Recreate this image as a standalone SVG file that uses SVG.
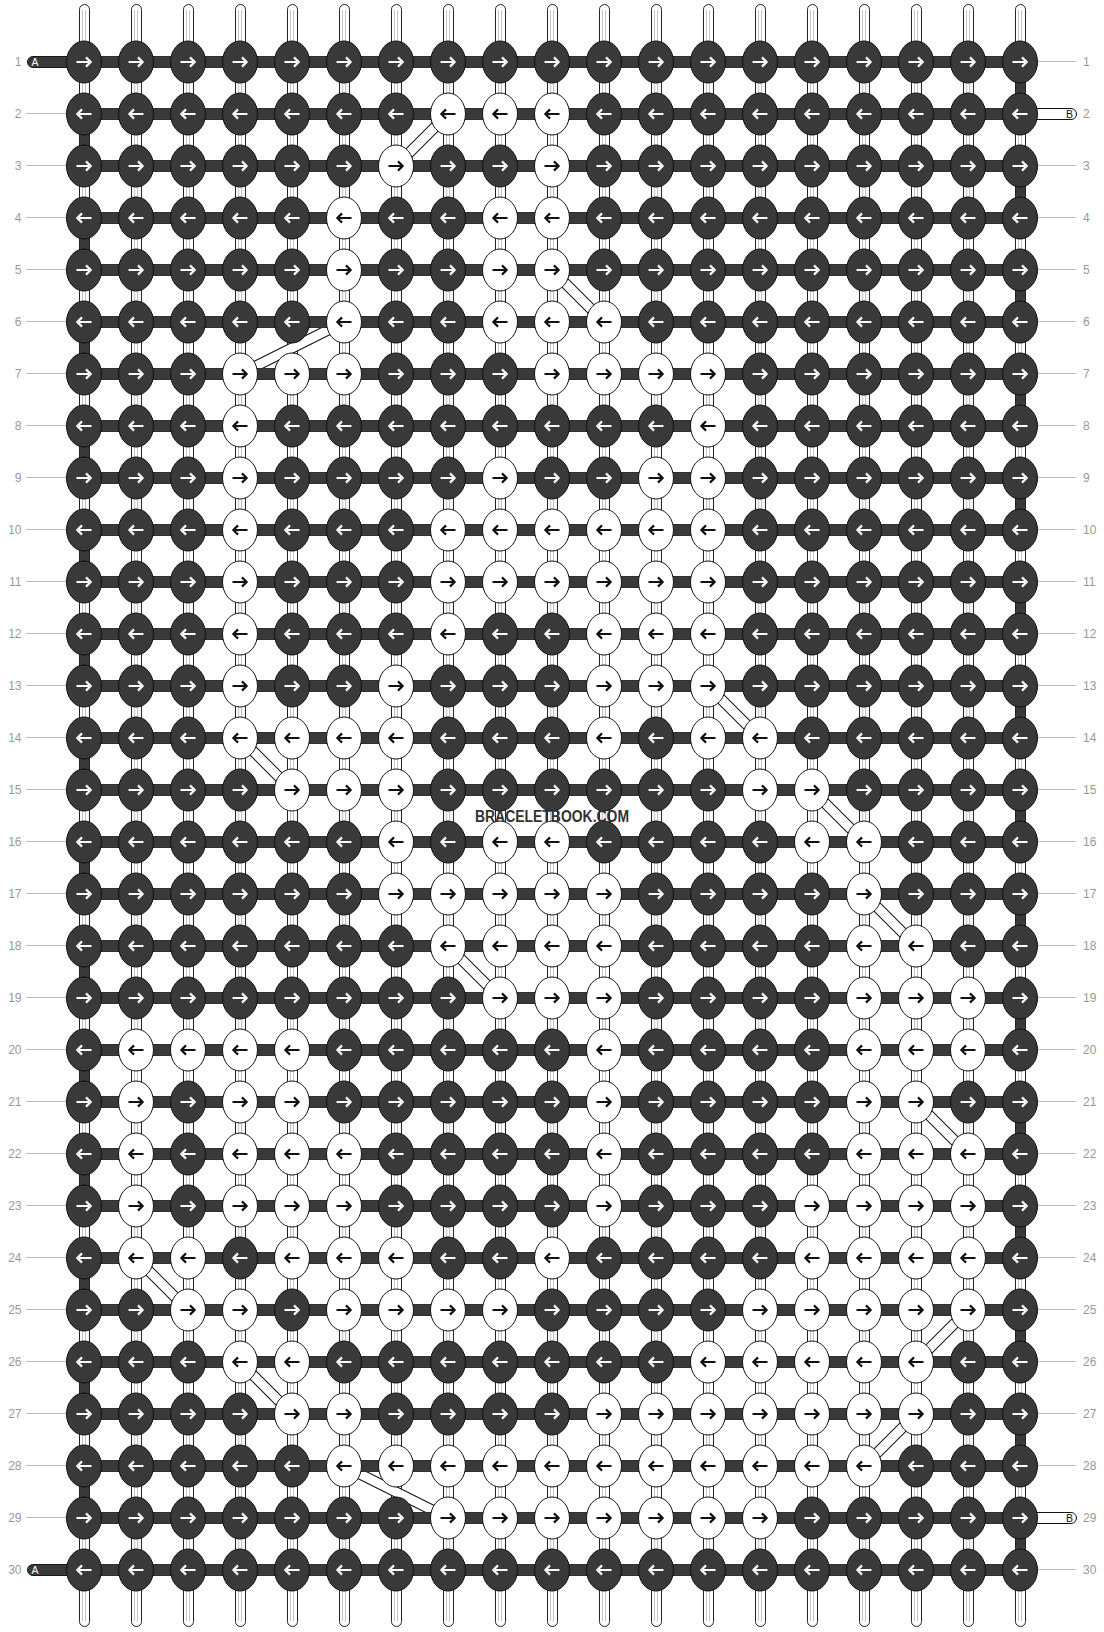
<svg xmlns="http://www.w3.org/2000/svg" width="1104" height="1632" viewBox="0 0 1104 1632">
<style>
.thr rect{fill:#fff;stroke:#222}
.thr path{fill:none;stroke:#c4c4c4}
.edge{fill:#393939;stroke:#222}
.bars{fill:#393939;stroke:#303030}
.cn line{fill:none}
.cn .o{stroke:#111;stroke-width:11}
.cn .i{stroke:#fff;stroke-width:9}
ellipse{stroke:#111}
.d ellipse{fill:#393939}
.w ellipse{fill:#fff}
.d use{stroke:#fff}
.w use{stroke:#111}
.ar{fill:none;stroke-width:2.2}
.num{font-family:"Liberation Sans",Arial,sans-serif;font-size:12px;fill:#999}
.gl{fill:none;stroke:#bbb}
.tag{font-family:"Liberation Sans",Arial,sans-serif;font-size:10.5px}
.abar{fill:#393939;stroke:#1a1a1a}
.bbar{fill:#fff;stroke:#111}
</style>
<defs>
<path id="R" class="ar" d="M-7.5 0H6M2-4.6 6.6 0 2 4.6"/>
<path id="L" class="ar" d="M7.5 0H-6M-2-4.6-6.6 0-2 4.6"/>
</defs>
<rect width="1104" height="1632" fill="#fff"/>
<g id="threads" class="thr">
<rect x="79.5" y="4.5" width="10" height="1622" rx="5"/><rect x="131.5" y="4.5" width="10" height="1622" rx="5"/><rect x="183.5" y="4.5" width="10" height="1622" rx="5"/><rect x="235.5" y="4.5" width="10" height="1622" rx="5"/><rect x="287.5" y="4.5" width="10" height="1622" rx="5"/><rect x="339.5" y="4.5" width="10" height="1622" rx="5"/><rect x="391.5" y="4.5" width="10" height="1622" rx="5"/><rect x="443.5" y="4.5" width="10" height="1622" rx="5"/><rect x="495.5" y="4.5" width="10" height="1622" rx="5"/><rect x="547.5" y="4.5" width="10" height="1622" rx="5"/><rect x="599.5" y="4.5" width="10" height="1622" rx="5"/><rect x="651.5" y="4.5" width="10" height="1622" rx="5"/><rect x="703.5" y="4.5" width="10" height="1622" rx="5"/><rect x="755.5" y="4.5" width="10" height="1622" rx="5"/><rect x="807.5" y="4.5" width="10" height="1622" rx="5"/><rect x="859.5" y="4.5" width="10" height="1622" rx="5"/><rect x="911.5" y="4.5" width="10" height="1622" rx="5"/><rect x="963.5" y="4.5" width="10" height="1622" rx="5"/><rect x="1015.5" y="4.5" width="10" height="1622" rx="5"/>
<path d="M82.5 10V1621M85.5 10V1621M134.5 10V1621M137.5 10V1621M186.5 10V1621M189.5 10V1621M238.5 10V1621M241.5 10V1621M290.5 10V1621M293.5 10V1621M342.5 10V1621M345.5 10V1621M394.5 10V1621M397.5 10V1621M446.5 10V1621M449.5 10V1621M498.5 10V1621M501.5 10V1621M550.5 10V1621M553.5 10V1621M602.5 10V1621M605.5 10V1621M654.5 10V1621M657.5 10V1621M706.5 10V1621M709.5 10V1621M758.5 10V1621M761.5 10V1621M810.5 10V1621M813.5 10V1621M862.5 10V1621M865.5 10V1621M914.5 10V1621M917.5 10V1621M966.5 10V1621M969.5 10V1621M1018.5 10V1621M1021.5 10V1621"/>
</g>
<g id="connectors" class="cn">
<g id="c1"><line class="o" x1="448" y1="114" x2="396" y2="166"/><line class="i" x1="448" y1="114" x2="396" y2="166"/></g>
<g id="c2"><line class="o" x1="552" y1="270" x2="604" y2="322"/><line class="i" x1="552" y1="270" x2="604" y2="322"/></g>
<g id="c3"><line class="o" x1="344" y1="322" x2="240" y2="374"/><line class="i" x1="344" y1="322" x2="240" y2="374"/></g>
<g id="c4"><line class="o" x1="708" y1="686" x2="760" y2="738"/><line class="i" x1="708" y1="686" x2="760" y2="738"/></g>
<g id="c5"><line class="o" x1="240" y1="738" x2="292" y2="790"/><line class="i" x1="240" y1="738" x2="292" y2="790"/></g>
<g id="c6"><line class="o" x1="812" y1="790" x2="864" y2="842"/><line class="i" x1="812" y1="790" x2="864" y2="842"/></g>
<g id="c7"><line class="o" x1="864" y1="894" x2="916" y2="946"/><line class="i" x1="864" y1="894" x2="916" y2="946"/></g>
<g id="c8"><line class="o" x1="448" y1="946" x2="500" y2="998"/><line class="i" x1="448" y1="946" x2="500" y2="998"/></g>
<g id="c9"><line class="o" x1="916" y1="1102" x2="968" y2="1154"/><line class="i" x1="916" y1="1102" x2="968" y2="1154"/></g>
<g id="c10"><line class="o" x1="136" y1="1258" x2="188" y2="1310"/><line class="i" x1="136" y1="1258" x2="188" y2="1310"/></g>
<g id="c11"><line class="o" x1="968" y1="1310" x2="916" y2="1362"/><line class="i" x1="968" y1="1310" x2="916" y2="1362"/></g>
<g id="c12"><line class="o" x1="240" y1="1362" x2="292" y2="1414"/><line class="i" x1="240" y1="1362" x2="292" y2="1414"/></g>
<g id="c13"><line class="o" x1="916" y1="1414" x2="864" y2="1466"/><line class="i" x1="916" y1="1414" x2="864" y2="1466"/></g>
<g id="c14"><line class="o" x1="344" y1="1466" x2="448" y2="1518"/><line class="i" x1="344" y1="1466" x2="448" y2="1518"/></g>
</g>
<g id="edges">
<path class="edge" d="M79.5 114h10v52h-10zM79.5 218h10v52h-10zM79.5 322h10v52h-10zM79.5 426h10v52h-10zM79.5 530h10v52h-10zM79.5 634h10v52h-10zM79.5 738h10v52h-10zM79.5 842h10v52h-10zM79.5 946h10v52h-10zM79.5 1050h10v52h-10zM79.5 1154h10v52h-10zM79.5 1258h10v52h-10zM79.5 1362h10v52h-10zM79.5 1466h10v52h-10z"/>
<path class="edge" d="M1015.5 62h10v52h-10zM1015.5 166h10v52h-10zM1015.5 270h10v52h-10zM1015.5 374h10v52h-10zM1015.5 478h10v52h-10zM1015.5 582h10v52h-10zM1015.5 686h10v52h-10zM1015.5 790h10v52h-10zM1015.5 894h10v52h-10zM1015.5 998h10v52h-10zM1015.5 1102h10v52h-10zM1015.5 1206h10v52h-10zM1015.5 1310h10v52h-10zM1015.5 1414h10v52h-10zM1015.5 1518h10v52h-10z"/>
</g>
<g id="ends">
<rect class="abar" x="27.5" y="56.5" width="70" height="11" rx="5.5"/>
<rect class="abar" x="27.5" y="1564.5" width="70" height="11" rx="5.5"/>
<rect class="bbar" x="1000.5" y="108.5" width="76" height="11" rx="5.5"/>
<rect class="bbar" x="1000.5" y="1512.5" width="76" height="11" rx="5.5"/>
<text class="tag" x="31.5" y="66" fill="#fff">A</text>
<text class="tag" x="31.5" y="1574" fill="#fff">A</text>
<text class="tag" x="1066" y="118" fill="#111">B</text>
<text class="tag" x="1066" y="1522" fill="#111">B</text>
</g>
<path id="rows" class="bars" d="M84 56.5h936v11h-936zM84 108.5h936v11h-936zM84 160.5h936v11h-936zM84 212.5h936v11h-936zM84 264.5h936v11h-936zM84 316.5h936v11h-936zM84 368.5h936v11h-936zM84 420.5h936v11h-936zM84 472.5h936v11h-936zM84 524.5h936v11h-936zM84 576.5h936v11h-936zM84 628.5h936v11h-936zM84 680.5h936v11h-936zM84 732.5h936v11h-936zM84 784.5h936v11h-936zM84 836.5h936v11h-936zM84 888.5h936v11h-936zM84 940.5h936v11h-936zM84 992.5h936v11h-936zM84 1044.5h936v11h-936zM84 1096.5h936v11h-936zM84 1148.5h936v11h-936zM84 1200.5h936v11h-936zM84 1252.5h936v11h-936zM84 1304.5h936v11h-936zM84 1356.5h936v11h-936zM84 1408.5h936v11h-936zM84 1460.5h936v11h-936zM84 1512.5h936v11h-936zM84 1564.5h936v11h-936z"/>
<path id="guides" class="gl" d="M26 113.5H66.5M26 165.5H66.5M26 217.5H66.5M26 269.5H66.5M26 321.5H66.5M26 373.5H66.5M26 425.5H66.5M26 477.5H66.5M26 529.5H66.5M26 581.5H66.5M26 633.5H66.5M26 685.5H66.5M26 737.5H66.5M26 789.5H66.5M26 841.5H66.5M26 893.5H66.5M26 945.5H66.5M26 997.5H66.5M26 1049.5H66.5M26 1101.5H66.5M26 1153.5H66.5M26 1205.5H66.5M26 1257.5H66.5M26 1309.5H66.5M26 1361.5H66.5M26 1413.5H66.5M26 1465.5H66.5M26 1517.5H66.5M1037.5 61.5H1076M1037.5 165.5H1076M1037.5 217.5H1076M1037.5 269.5H1076M1037.5 321.5H1076M1037.5 373.5H1076M1037.5 425.5H1076M1037.5 477.5H1076M1037.5 529.5H1076M1037.5 581.5H1076M1037.5 633.5H1076M1037.5 685.5H1076M1037.5 737.5H1076M1037.5 789.5H1076M1037.5 841.5H1076M1037.5 893.5H1076M1037.5 945.5H1076M1037.5 997.5H1076M1037.5 1049.5H1076M1037.5 1101.5H1076M1037.5 1153.5H1076M1037.5 1205.5H1076M1037.5 1257.5H1076M1037.5 1309.5H1076M1037.5 1361.5H1076M1037.5 1413.5H1076M1037.5 1465.5H1076M1037.5 1569.5H1076"/>
<g id="labels-left" class="num" text-anchor="end">
<text x="21.5" y="66">1</text><text x="21.5" y="118">2</text><text x="21.5" y="170">3</text><text x="21.5" y="222">4</text><text x="21.5" y="274">5</text><text x="21.5" y="326">6</text><text x="21.5" y="378">7</text><text x="21.5" y="430">8</text><text x="21.5" y="482">9</text><text x="21.5" y="534">10</text><text x="21.5" y="586">11</text><text x="21.5" y="638">12</text><text x="21.5" y="690">13</text><text x="21.5" y="742">14</text><text x="21.5" y="794">15</text><text x="21.5" y="846">16</text><text x="21.5" y="898">17</text><text x="21.5" y="950">18</text><text x="21.5" y="1002">19</text><text x="21.5" y="1054">20</text><text x="21.5" y="1106">21</text><text x="21.5" y="1158">22</text><text x="21.5" y="1210">23</text><text x="21.5" y="1262">24</text><text x="21.5" y="1314">25</text><text x="21.5" y="1366">26</text><text x="21.5" y="1418">27</text><text x="21.5" y="1470">28</text><text x="21.5" y="1522">29</text><text x="21.5" y="1574">30</text>
</g>
<g id="labels-right" class="num">
<text x="1083" y="66">1</text><text x="1083" y="118">2</text><text x="1083" y="170">3</text><text x="1083" y="222">4</text><text x="1083" y="274">5</text><text x="1083" y="326">6</text><text x="1083" y="378">7</text><text x="1083" y="430">8</text><text x="1083" y="482">9</text><text x="1083" y="534">10</text><text x="1083" y="586">11</text><text x="1083" y="638">12</text><text x="1083" y="690">13</text><text x="1083" y="742">14</text><text x="1083" y="794">15</text><text x="1083" y="846">16</text><text x="1083" y="898">17</text><text x="1083" y="950">18</text><text x="1083" y="1002">19</text><text x="1083" y="1054">20</text><text x="1083" y="1106">21</text><text x="1083" y="1158">22</text><text x="1083" y="1210">23</text><text x="1083" y="1262">24</text><text x="1083" y="1314">25</text><text x="1083" y="1366">26</text><text x="1083" y="1418">27</text><text x="1083" y="1470">28</text><text x="1083" y="1522">29</text><text x="1083" y="1574">30</text>
</g>
<g id="nodes">
<g id="row1" transform="translate(0 62)">
<g id="n1-1" class="d" transform="translate(84)"><ellipse rx="17.5" ry="21"/><use href="#R"/></g><g id="n1-2" class="d" transform="translate(136)"><ellipse rx="17.5" ry="21"/><use href="#R"/></g><g id="n1-3" class="d" transform="translate(188)"><ellipse rx="17.5" ry="21"/><use href="#R"/></g><g id="n1-4" class="d" transform="translate(240)"><ellipse rx="17.5" ry="21"/><use href="#R"/></g><g id="n1-5" class="d" transform="translate(292)"><ellipse rx="17.5" ry="21"/><use href="#R"/></g><g id="n1-6" class="d" transform="translate(344)"><ellipse rx="17.5" ry="21"/><use href="#R"/></g><g id="n1-7" class="d" transform="translate(396)"><ellipse rx="17.5" ry="21"/><use href="#R"/></g><g id="n1-8" class="d" transform="translate(448)"><ellipse rx="17.5" ry="21"/><use href="#R"/></g><g id="n1-9" class="d" transform="translate(500)"><ellipse rx="17.5" ry="21"/><use href="#R"/></g><g id="n1-10" class="d" transform="translate(552)"><ellipse rx="17.5" ry="21"/><use href="#R"/></g><g id="n1-11" class="d" transform="translate(604)"><ellipse rx="17.5" ry="21"/><use href="#R"/></g><g id="n1-12" class="d" transform="translate(656)"><ellipse rx="17.5" ry="21"/><use href="#R"/></g><g id="n1-13" class="d" transform="translate(708)"><ellipse rx="17.5" ry="21"/><use href="#R"/></g><g id="n1-14" class="d" transform="translate(760)"><ellipse rx="17.5" ry="21"/><use href="#R"/></g><g id="n1-15" class="d" transform="translate(812)"><ellipse rx="17.5" ry="21"/><use href="#R"/></g><g id="n1-16" class="d" transform="translate(864)"><ellipse rx="17.5" ry="21"/><use href="#R"/></g><g id="n1-17" class="d" transform="translate(916)"><ellipse rx="17.5" ry="21"/><use href="#R"/></g><g id="n1-18" class="d" transform="translate(968)"><ellipse rx="17.5" ry="21"/><use href="#R"/></g><g id="n1-19" class="d" transform="translate(1020)"><ellipse rx="17.5" ry="21"/><use href="#R"/></g>
</g>
<g id="row2" transform="translate(0 114)">
<g id="n2-1" class="d" transform="translate(84)"><ellipse rx="17.5" ry="21"/><use href="#L"/></g><g id="n2-2" class="d" transform="translate(136)"><ellipse rx="17.5" ry="21"/><use href="#L"/></g><g id="n2-3" class="d" transform="translate(188)"><ellipse rx="17.5" ry="21"/><use href="#L"/></g><g id="n2-4" class="d" transform="translate(240)"><ellipse rx="17.5" ry="21"/><use href="#L"/></g><g id="n2-5" class="d" transform="translate(292)"><ellipse rx="17.5" ry="21"/><use href="#L"/></g><g id="n2-6" class="d" transform="translate(344)"><ellipse rx="17.5" ry="21"/><use href="#L"/></g><g id="n2-7" class="d" transform="translate(396)"><ellipse rx="17.5" ry="21"/><use href="#L"/></g><g id="n2-8" class="w" transform="translate(448)"><ellipse rx="17.5" ry="21"/><use href="#L"/></g><g id="n2-9" class="w" transform="translate(500)"><ellipse rx="17.5" ry="21"/><use href="#L"/></g><g id="n2-10" class="w" transform="translate(552)"><ellipse rx="17.5" ry="21"/><use href="#L"/></g><g id="n2-11" class="d" transform="translate(604)"><ellipse rx="17.5" ry="21"/><use href="#L"/></g><g id="n2-12" class="d" transform="translate(656)"><ellipse rx="17.5" ry="21"/><use href="#L"/></g><g id="n2-13" class="d" transform="translate(708)"><ellipse rx="17.5" ry="21"/><use href="#L"/></g><g id="n2-14" class="d" transform="translate(760)"><ellipse rx="17.5" ry="21"/><use href="#L"/></g><g id="n2-15" class="d" transform="translate(812)"><ellipse rx="17.5" ry="21"/><use href="#L"/></g><g id="n2-16" class="d" transform="translate(864)"><ellipse rx="17.5" ry="21"/><use href="#L"/></g><g id="n2-17" class="d" transform="translate(916)"><ellipse rx="17.5" ry="21"/><use href="#L"/></g><g id="n2-18" class="d" transform="translate(968)"><ellipse rx="17.5" ry="21"/><use href="#L"/></g><g id="n2-19" class="d" transform="translate(1020)"><ellipse rx="17.5" ry="21"/><use href="#L"/></g>
</g>
<g id="row3" transform="translate(0 166)">
<g id="n3-1" class="d" transform="translate(84)"><ellipse rx="17.5" ry="21"/><use href="#R"/></g><g id="n3-2" class="d" transform="translate(136)"><ellipse rx="17.5" ry="21"/><use href="#R"/></g><g id="n3-3" class="d" transform="translate(188)"><ellipse rx="17.5" ry="21"/><use href="#R"/></g><g id="n3-4" class="d" transform="translate(240)"><ellipse rx="17.5" ry="21"/><use href="#R"/></g><g id="n3-5" class="d" transform="translate(292)"><ellipse rx="17.5" ry="21"/><use href="#R"/></g><g id="n3-6" class="d" transform="translate(344)"><ellipse rx="17.5" ry="21"/><use href="#R"/></g><g id="n3-7" class="w" transform="translate(396)"><ellipse rx="17.5" ry="21"/><use href="#R"/></g><g id="n3-8" class="d" transform="translate(448)"><ellipse rx="17.5" ry="21"/><use href="#R"/></g><g id="n3-9" class="d" transform="translate(500)"><ellipse rx="17.5" ry="21"/><use href="#R"/></g><g id="n3-10" class="w" transform="translate(552)"><ellipse rx="17.5" ry="21"/><use href="#R"/></g><g id="n3-11" class="d" transform="translate(604)"><ellipse rx="17.5" ry="21"/><use href="#R"/></g><g id="n3-12" class="d" transform="translate(656)"><ellipse rx="17.5" ry="21"/><use href="#R"/></g><g id="n3-13" class="d" transform="translate(708)"><ellipse rx="17.5" ry="21"/><use href="#R"/></g><g id="n3-14" class="d" transform="translate(760)"><ellipse rx="17.5" ry="21"/><use href="#R"/></g><g id="n3-15" class="d" transform="translate(812)"><ellipse rx="17.5" ry="21"/><use href="#R"/></g><g id="n3-16" class="d" transform="translate(864)"><ellipse rx="17.5" ry="21"/><use href="#R"/></g><g id="n3-17" class="d" transform="translate(916)"><ellipse rx="17.5" ry="21"/><use href="#R"/></g><g id="n3-18" class="d" transform="translate(968)"><ellipse rx="17.5" ry="21"/><use href="#R"/></g><g id="n3-19" class="d" transform="translate(1020)"><ellipse rx="17.5" ry="21"/><use href="#R"/></g>
</g>
<g id="row4" transform="translate(0 218)">
<g id="n4-1" class="d" transform="translate(84)"><ellipse rx="17.5" ry="21"/><use href="#L"/></g><g id="n4-2" class="d" transform="translate(136)"><ellipse rx="17.5" ry="21"/><use href="#L"/></g><g id="n4-3" class="d" transform="translate(188)"><ellipse rx="17.5" ry="21"/><use href="#L"/></g><g id="n4-4" class="d" transform="translate(240)"><ellipse rx="17.5" ry="21"/><use href="#L"/></g><g id="n4-5" class="d" transform="translate(292)"><ellipse rx="17.5" ry="21"/><use href="#L"/></g><g id="n4-6" class="w" transform="translate(344)"><ellipse rx="17.5" ry="21"/><use href="#L"/></g><g id="n4-7" class="d" transform="translate(396)"><ellipse rx="17.5" ry="21"/><use href="#L"/></g><g id="n4-8" class="d" transform="translate(448)"><ellipse rx="17.5" ry="21"/><use href="#L"/></g><g id="n4-9" class="w" transform="translate(500)"><ellipse rx="17.5" ry="21"/><use href="#L"/></g><g id="n4-10" class="w" transform="translate(552)"><ellipse rx="17.5" ry="21"/><use href="#L"/></g><g id="n4-11" class="d" transform="translate(604)"><ellipse rx="17.5" ry="21"/><use href="#L"/></g><g id="n4-12" class="d" transform="translate(656)"><ellipse rx="17.5" ry="21"/><use href="#L"/></g><g id="n4-13" class="d" transform="translate(708)"><ellipse rx="17.5" ry="21"/><use href="#L"/></g><g id="n4-14" class="d" transform="translate(760)"><ellipse rx="17.5" ry="21"/><use href="#L"/></g><g id="n4-15" class="d" transform="translate(812)"><ellipse rx="17.5" ry="21"/><use href="#L"/></g><g id="n4-16" class="d" transform="translate(864)"><ellipse rx="17.5" ry="21"/><use href="#L"/></g><g id="n4-17" class="d" transform="translate(916)"><ellipse rx="17.5" ry="21"/><use href="#L"/></g><g id="n4-18" class="d" transform="translate(968)"><ellipse rx="17.5" ry="21"/><use href="#L"/></g><g id="n4-19" class="d" transform="translate(1020)"><ellipse rx="17.5" ry="21"/><use href="#L"/></g>
</g>
<g id="row5" transform="translate(0 270)">
<g id="n5-1" class="d" transform="translate(84)"><ellipse rx="17.5" ry="21"/><use href="#R"/></g><g id="n5-2" class="d" transform="translate(136)"><ellipse rx="17.5" ry="21"/><use href="#R"/></g><g id="n5-3" class="d" transform="translate(188)"><ellipse rx="17.5" ry="21"/><use href="#R"/></g><g id="n5-4" class="d" transform="translate(240)"><ellipse rx="17.5" ry="21"/><use href="#R"/></g><g id="n5-5" class="d" transform="translate(292)"><ellipse rx="17.5" ry="21"/><use href="#R"/></g><g id="n5-6" class="w" transform="translate(344)"><ellipse rx="17.5" ry="21"/><use href="#R"/></g><g id="n5-7" class="d" transform="translate(396)"><ellipse rx="17.5" ry="21"/><use href="#R"/></g><g id="n5-8" class="d" transform="translate(448)"><ellipse rx="17.5" ry="21"/><use href="#R"/></g><g id="n5-9" class="w" transform="translate(500)"><ellipse rx="17.5" ry="21"/><use href="#R"/></g><g id="n5-10" class="w" transform="translate(552)"><ellipse rx="17.5" ry="21"/><use href="#R"/></g><g id="n5-11" class="d" transform="translate(604)"><ellipse rx="17.5" ry="21"/><use href="#R"/></g><g id="n5-12" class="d" transform="translate(656)"><ellipse rx="17.5" ry="21"/><use href="#R"/></g><g id="n5-13" class="d" transform="translate(708)"><ellipse rx="17.5" ry="21"/><use href="#R"/></g><g id="n5-14" class="d" transform="translate(760)"><ellipse rx="17.5" ry="21"/><use href="#R"/></g><g id="n5-15" class="d" transform="translate(812)"><ellipse rx="17.5" ry="21"/><use href="#R"/></g><g id="n5-16" class="d" transform="translate(864)"><ellipse rx="17.5" ry="21"/><use href="#R"/></g><g id="n5-17" class="d" transform="translate(916)"><ellipse rx="17.5" ry="21"/><use href="#R"/></g><g id="n5-18" class="d" transform="translate(968)"><ellipse rx="17.5" ry="21"/><use href="#R"/></g><g id="n5-19" class="d" transform="translate(1020)"><ellipse rx="17.5" ry="21"/><use href="#R"/></g>
</g>
<g id="row6" transform="translate(0 322)">
<g id="n6-1" class="d" transform="translate(84)"><ellipse rx="17.5" ry="21"/><use href="#L"/></g><g id="n6-2" class="d" transform="translate(136)"><ellipse rx="17.5" ry="21"/><use href="#L"/></g><g id="n6-3" class="d" transform="translate(188)"><ellipse rx="17.5" ry="21"/><use href="#L"/></g><g id="n6-4" class="d" transform="translate(240)"><ellipse rx="17.5" ry="21"/><use href="#L"/></g><g id="n6-5" class="d" transform="translate(292)"><ellipse rx="17.5" ry="21"/><use href="#L"/></g><g id="n6-6" class="w" transform="translate(344)"><ellipse rx="17.5" ry="21"/><use href="#L"/></g><g id="n6-7" class="d" transform="translate(396)"><ellipse rx="17.5" ry="21"/><use href="#L"/></g><g id="n6-8" class="d" transform="translate(448)"><ellipse rx="17.5" ry="21"/><use href="#L"/></g><g id="n6-9" class="w" transform="translate(500)"><ellipse rx="17.5" ry="21"/><use href="#L"/></g><g id="n6-10" class="w" transform="translate(552)"><ellipse rx="17.5" ry="21"/><use href="#L"/></g><g id="n6-11" class="w" transform="translate(604)"><ellipse rx="17.5" ry="21"/><use href="#L"/></g><g id="n6-12" class="d" transform="translate(656)"><ellipse rx="17.5" ry="21"/><use href="#L"/></g><g id="n6-13" class="d" transform="translate(708)"><ellipse rx="17.5" ry="21"/><use href="#L"/></g><g id="n6-14" class="d" transform="translate(760)"><ellipse rx="17.5" ry="21"/><use href="#L"/></g><g id="n6-15" class="d" transform="translate(812)"><ellipse rx="17.5" ry="21"/><use href="#L"/></g><g id="n6-16" class="d" transform="translate(864)"><ellipse rx="17.5" ry="21"/><use href="#L"/></g><g id="n6-17" class="d" transform="translate(916)"><ellipse rx="17.5" ry="21"/><use href="#L"/></g><g id="n6-18" class="d" transform="translate(968)"><ellipse rx="17.5" ry="21"/><use href="#L"/></g><g id="n6-19" class="d" transform="translate(1020)"><ellipse rx="17.5" ry="21"/><use href="#L"/></g>
</g>
<g id="row7" transform="translate(0 374)">
<g id="n7-1" class="d" transform="translate(84)"><ellipse rx="17.5" ry="21"/><use href="#R"/></g><g id="n7-2" class="d" transform="translate(136)"><ellipse rx="17.5" ry="21"/><use href="#R"/></g><g id="n7-3" class="d" transform="translate(188)"><ellipse rx="17.5" ry="21"/><use href="#R"/></g><g id="n7-4" class="w" transform="translate(240)"><ellipse rx="17.5" ry="21"/><use href="#R"/></g><g id="n7-5" class="w" transform="translate(292)"><ellipse rx="17.5" ry="21"/><use href="#R"/></g><g id="n7-6" class="w" transform="translate(344)"><ellipse rx="17.5" ry="21"/><use href="#R"/></g><g id="n7-7" class="d" transform="translate(396)"><ellipse rx="17.5" ry="21"/><use href="#R"/></g><g id="n7-8" class="d" transform="translate(448)"><ellipse rx="17.5" ry="21"/><use href="#R"/></g><g id="n7-9" class="d" transform="translate(500)"><ellipse rx="17.5" ry="21"/><use href="#R"/></g><g id="n7-10" class="w" transform="translate(552)"><ellipse rx="17.5" ry="21"/><use href="#R"/></g><g id="n7-11" class="w" transform="translate(604)"><ellipse rx="17.5" ry="21"/><use href="#R"/></g><g id="n7-12" class="w" transform="translate(656)"><ellipse rx="17.5" ry="21"/><use href="#R"/></g><g id="n7-13" class="w" transform="translate(708)"><ellipse rx="17.5" ry="21"/><use href="#R"/></g><g id="n7-14" class="d" transform="translate(760)"><ellipse rx="17.5" ry="21"/><use href="#R"/></g><g id="n7-15" class="d" transform="translate(812)"><ellipse rx="17.5" ry="21"/><use href="#R"/></g><g id="n7-16" class="d" transform="translate(864)"><ellipse rx="17.5" ry="21"/><use href="#R"/></g><g id="n7-17" class="d" transform="translate(916)"><ellipse rx="17.5" ry="21"/><use href="#R"/></g><g id="n7-18" class="d" transform="translate(968)"><ellipse rx="17.5" ry="21"/><use href="#R"/></g><g id="n7-19" class="d" transform="translate(1020)"><ellipse rx="17.5" ry="21"/><use href="#R"/></g>
</g>
<g id="row8" transform="translate(0 426)">
<g id="n8-1" class="d" transform="translate(84)"><ellipse rx="17.5" ry="21"/><use href="#L"/></g><g id="n8-2" class="d" transform="translate(136)"><ellipse rx="17.5" ry="21"/><use href="#L"/></g><g id="n8-3" class="d" transform="translate(188)"><ellipse rx="17.5" ry="21"/><use href="#L"/></g><g id="n8-4" class="w" transform="translate(240)"><ellipse rx="17.5" ry="21"/><use href="#L"/></g><g id="n8-5" class="d" transform="translate(292)"><ellipse rx="17.5" ry="21"/><use href="#L"/></g><g id="n8-6" class="d" transform="translate(344)"><ellipse rx="17.5" ry="21"/><use href="#L"/></g><g id="n8-7" class="d" transform="translate(396)"><ellipse rx="17.5" ry="21"/><use href="#L"/></g><g id="n8-8" class="d" transform="translate(448)"><ellipse rx="17.5" ry="21"/><use href="#L"/></g><g id="n8-9" class="d" transform="translate(500)"><ellipse rx="17.5" ry="21"/><use href="#L"/></g><g id="n8-10" class="d" transform="translate(552)"><ellipse rx="17.5" ry="21"/><use href="#L"/></g><g id="n8-11" class="d" transform="translate(604)"><ellipse rx="17.5" ry="21"/><use href="#L"/></g><g id="n8-12" class="d" transform="translate(656)"><ellipse rx="17.5" ry="21"/><use href="#L"/></g><g id="n8-13" class="w" transform="translate(708)"><ellipse rx="17.5" ry="21"/><use href="#L"/></g><g id="n8-14" class="d" transform="translate(760)"><ellipse rx="17.5" ry="21"/><use href="#L"/></g><g id="n8-15" class="d" transform="translate(812)"><ellipse rx="17.5" ry="21"/><use href="#L"/></g><g id="n8-16" class="d" transform="translate(864)"><ellipse rx="17.5" ry="21"/><use href="#L"/></g><g id="n8-17" class="d" transform="translate(916)"><ellipse rx="17.5" ry="21"/><use href="#L"/></g><g id="n8-18" class="d" transform="translate(968)"><ellipse rx="17.5" ry="21"/><use href="#L"/></g><g id="n8-19" class="d" transform="translate(1020)"><ellipse rx="17.5" ry="21"/><use href="#L"/></g>
</g>
<g id="row9" transform="translate(0 478)">
<g id="n9-1" class="d" transform="translate(84)"><ellipse rx="17.5" ry="21"/><use href="#R"/></g><g id="n9-2" class="d" transform="translate(136)"><ellipse rx="17.5" ry="21"/><use href="#R"/></g><g id="n9-3" class="d" transform="translate(188)"><ellipse rx="17.5" ry="21"/><use href="#R"/></g><g id="n9-4" class="w" transform="translate(240)"><ellipse rx="17.5" ry="21"/><use href="#R"/></g><g id="n9-5" class="d" transform="translate(292)"><ellipse rx="17.5" ry="21"/><use href="#R"/></g><g id="n9-6" class="d" transform="translate(344)"><ellipse rx="17.5" ry="21"/><use href="#R"/></g><g id="n9-7" class="d" transform="translate(396)"><ellipse rx="17.5" ry="21"/><use href="#R"/></g><g id="n9-8" class="d" transform="translate(448)"><ellipse rx="17.5" ry="21"/><use href="#R"/></g><g id="n9-9" class="w" transform="translate(500)"><ellipse rx="17.5" ry="21"/><use href="#R"/></g><g id="n9-10" class="d" transform="translate(552)"><ellipse rx="17.5" ry="21"/><use href="#R"/></g><g id="n9-11" class="d" transform="translate(604)"><ellipse rx="17.5" ry="21"/><use href="#R"/></g><g id="n9-12" class="w" transform="translate(656)"><ellipse rx="17.5" ry="21"/><use href="#R"/></g><g id="n9-13" class="w" transform="translate(708)"><ellipse rx="17.5" ry="21"/><use href="#R"/></g><g id="n9-14" class="d" transform="translate(760)"><ellipse rx="17.5" ry="21"/><use href="#R"/></g><g id="n9-15" class="d" transform="translate(812)"><ellipse rx="17.5" ry="21"/><use href="#R"/></g><g id="n9-16" class="d" transform="translate(864)"><ellipse rx="17.5" ry="21"/><use href="#R"/></g><g id="n9-17" class="d" transform="translate(916)"><ellipse rx="17.5" ry="21"/><use href="#R"/></g><g id="n9-18" class="d" transform="translate(968)"><ellipse rx="17.5" ry="21"/><use href="#R"/></g><g id="n9-19" class="d" transform="translate(1020)"><ellipse rx="17.5" ry="21"/><use href="#R"/></g>
</g>
<g id="row10" transform="translate(0 530)">
<g id="n10-1" class="d" transform="translate(84)"><ellipse rx="17.5" ry="21"/><use href="#L"/></g><g id="n10-2" class="d" transform="translate(136)"><ellipse rx="17.5" ry="21"/><use href="#L"/></g><g id="n10-3" class="d" transform="translate(188)"><ellipse rx="17.5" ry="21"/><use href="#L"/></g><g id="n10-4" class="w" transform="translate(240)"><ellipse rx="17.5" ry="21"/><use href="#L"/></g><g id="n10-5" class="d" transform="translate(292)"><ellipse rx="17.5" ry="21"/><use href="#L"/></g><g id="n10-6" class="d" transform="translate(344)"><ellipse rx="17.5" ry="21"/><use href="#L"/></g><g id="n10-7" class="d" transform="translate(396)"><ellipse rx="17.5" ry="21"/><use href="#L"/></g><g id="n10-8" class="w" transform="translate(448)"><ellipse rx="17.5" ry="21"/><use href="#L"/></g><g id="n10-9" class="w" transform="translate(500)"><ellipse rx="17.5" ry="21"/><use href="#L"/></g><g id="n10-10" class="w" transform="translate(552)"><ellipse rx="17.5" ry="21"/><use href="#L"/></g><g id="n10-11" class="w" transform="translate(604)"><ellipse rx="17.5" ry="21"/><use href="#L"/></g><g id="n10-12" class="w" transform="translate(656)"><ellipse rx="17.5" ry="21"/><use href="#L"/></g><g id="n10-13" class="w" transform="translate(708)"><ellipse rx="17.5" ry="21"/><use href="#L"/></g><g id="n10-14" class="d" transform="translate(760)"><ellipse rx="17.5" ry="21"/><use href="#L"/></g><g id="n10-15" class="d" transform="translate(812)"><ellipse rx="17.5" ry="21"/><use href="#L"/></g><g id="n10-16" class="d" transform="translate(864)"><ellipse rx="17.5" ry="21"/><use href="#L"/></g><g id="n10-17" class="d" transform="translate(916)"><ellipse rx="17.5" ry="21"/><use href="#L"/></g><g id="n10-18" class="d" transform="translate(968)"><ellipse rx="17.5" ry="21"/><use href="#L"/></g><g id="n10-19" class="d" transform="translate(1020)"><ellipse rx="17.5" ry="21"/><use href="#L"/></g>
</g>
<g id="row11" transform="translate(0 582)">
<g id="n11-1" class="d" transform="translate(84)"><ellipse rx="17.5" ry="21"/><use href="#R"/></g><g id="n11-2" class="d" transform="translate(136)"><ellipse rx="17.5" ry="21"/><use href="#R"/></g><g id="n11-3" class="d" transform="translate(188)"><ellipse rx="17.5" ry="21"/><use href="#R"/></g><g id="n11-4" class="w" transform="translate(240)"><ellipse rx="17.5" ry="21"/><use href="#R"/></g><g id="n11-5" class="d" transform="translate(292)"><ellipse rx="17.5" ry="21"/><use href="#R"/></g><g id="n11-6" class="d" transform="translate(344)"><ellipse rx="17.5" ry="21"/><use href="#R"/></g><g id="n11-7" class="d" transform="translate(396)"><ellipse rx="17.5" ry="21"/><use href="#R"/></g><g id="n11-8" class="w" transform="translate(448)"><ellipse rx="17.5" ry="21"/><use href="#R"/></g><g id="n11-9" class="w" transform="translate(500)"><ellipse rx="17.5" ry="21"/><use href="#R"/></g><g id="n11-10" class="w" transform="translate(552)"><ellipse rx="17.5" ry="21"/><use href="#R"/></g><g id="n11-11" class="w" transform="translate(604)"><ellipse rx="17.5" ry="21"/><use href="#R"/></g><g id="n11-12" class="w" transform="translate(656)"><ellipse rx="17.5" ry="21"/><use href="#R"/></g><g id="n11-13" class="w" transform="translate(708)"><ellipse rx="17.5" ry="21"/><use href="#R"/></g><g id="n11-14" class="d" transform="translate(760)"><ellipse rx="17.5" ry="21"/><use href="#R"/></g><g id="n11-15" class="d" transform="translate(812)"><ellipse rx="17.5" ry="21"/><use href="#R"/></g><g id="n11-16" class="d" transform="translate(864)"><ellipse rx="17.5" ry="21"/><use href="#R"/></g><g id="n11-17" class="d" transform="translate(916)"><ellipse rx="17.5" ry="21"/><use href="#R"/></g><g id="n11-18" class="d" transform="translate(968)"><ellipse rx="17.5" ry="21"/><use href="#R"/></g><g id="n11-19" class="d" transform="translate(1020)"><ellipse rx="17.5" ry="21"/><use href="#R"/></g>
</g>
<g id="row12" transform="translate(0 634)">
<g id="n12-1" class="d" transform="translate(84)"><ellipse rx="17.5" ry="21"/><use href="#L"/></g><g id="n12-2" class="d" transform="translate(136)"><ellipse rx="17.5" ry="21"/><use href="#L"/></g><g id="n12-3" class="d" transform="translate(188)"><ellipse rx="17.5" ry="21"/><use href="#L"/></g><g id="n12-4" class="w" transform="translate(240)"><ellipse rx="17.5" ry="21"/><use href="#L"/></g><g id="n12-5" class="d" transform="translate(292)"><ellipse rx="17.5" ry="21"/><use href="#L"/></g><g id="n12-6" class="d" transform="translate(344)"><ellipse rx="17.5" ry="21"/><use href="#L"/></g><g id="n12-7" class="d" transform="translate(396)"><ellipse rx="17.5" ry="21"/><use href="#L"/></g><g id="n12-8" class="w" transform="translate(448)"><ellipse rx="17.5" ry="21"/><use href="#L"/></g><g id="n12-9" class="d" transform="translate(500)"><ellipse rx="17.5" ry="21"/><use href="#L"/></g><g id="n12-10" class="d" transform="translate(552)"><ellipse rx="17.5" ry="21"/><use href="#L"/></g><g id="n12-11" class="w" transform="translate(604)"><ellipse rx="17.5" ry="21"/><use href="#L"/></g><g id="n12-12" class="w" transform="translate(656)"><ellipse rx="17.5" ry="21"/><use href="#L"/></g><g id="n12-13" class="w" transform="translate(708)"><ellipse rx="17.5" ry="21"/><use href="#L"/></g><g id="n12-14" class="d" transform="translate(760)"><ellipse rx="17.5" ry="21"/><use href="#L"/></g><g id="n12-15" class="d" transform="translate(812)"><ellipse rx="17.5" ry="21"/><use href="#L"/></g><g id="n12-16" class="d" transform="translate(864)"><ellipse rx="17.5" ry="21"/><use href="#L"/></g><g id="n12-17" class="d" transform="translate(916)"><ellipse rx="17.5" ry="21"/><use href="#L"/></g><g id="n12-18" class="d" transform="translate(968)"><ellipse rx="17.5" ry="21"/><use href="#L"/></g><g id="n12-19" class="d" transform="translate(1020)"><ellipse rx="17.5" ry="21"/><use href="#L"/></g>
</g>
<g id="row13" transform="translate(0 686)">
<g id="n13-1" class="d" transform="translate(84)"><ellipse rx="17.5" ry="21"/><use href="#R"/></g><g id="n13-2" class="d" transform="translate(136)"><ellipse rx="17.5" ry="21"/><use href="#R"/></g><g id="n13-3" class="d" transform="translate(188)"><ellipse rx="17.5" ry="21"/><use href="#R"/></g><g id="n13-4" class="w" transform="translate(240)"><ellipse rx="17.5" ry="21"/><use href="#R"/></g><g id="n13-5" class="d" transform="translate(292)"><ellipse rx="17.5" ry="21"/><use href="#R"/></g><g id="n13-6" class="d" transform="translate(344)"><ellipse rx="17.5" ry="21"/><use href="#R"/></g><g id="n13-7" class="w" transform="translate(396)"><ellipse rx="17.5" ry="21"/><use href="#R"/></g><g id="n13-8" class="d" transform="translate(448)"><ellipse rx="17.5" ry="21"/><use href="#R"/></g><g id="n13-9" class="d" transform="translate(500)"><ellipse rx="17.5" ry="21"/><use href="#R"/></g><g id="n13-10" class="d" transform="translate(552)"><ellipse rx="17.5" ry="21"/><use href="#R"/></g><g id="n13-11" class="w" transform="translate(604)"><ellipse rx="17.5" ry="21"/><use href="#R"/></g><g id="n13-12" class="w" transform="translate(656)"><ellipse rx="17.5" ry="21"/><use href="#R"/></g><g id="n13-13" class="w" transform="translate(708)"><ellipse rx="17.5" ry="21"/><use href="#R"/></g><g id="n13-14" class="d" transform="translate(760)"><ellipse rx="17.5" ry="21"/><use href="#R"/></g><g id="n13-15" class="d" transform="translate(812)"><ellipse rx="17.5" ry="21"/><use href="#R"/></g><g id="n13-16" class="d" transform="translate(864)"><ellipse rx="17.5" ry="21"/><use href="#R"/></g><g id="n13-17" class="d" transform="translate(916)"><ellipse rx="17.5" ry="21"/><use href="#R"/></g><g id="n13-18" class="d" transform="translate(968)"><ellipse rx="17.5" ry="21"/><use href="#R"/></g><g id="n13-19" class="d" transform="translate(1020)"><ellipse rx="17.5" ry="21"/><use href="#R"/></g>
</g>
<g id="row14" transform="translate(0 738)">
<g id="n14-1" class="d" transform="translate(84)"><ellipse rx="17.5" ry="21"/><use href="#L"/></g><g id="n14-2" class="d" transform="translate(136)"><ellipse rx="17.5" ry="21"/><use href="#L"/></g><g id="n14-3" class="d" transform="translate(188)"><ellipse rx="17.5" ry="21"/><use href="#L"/></g><g id="n14-4" class="w" transform="translate(240)"><ellipse rx="17.5" ry="21"/><use href="#L"/></g><g id="n14-5" class="w" transform="translate(292)"><ellipse rx="17.5" ry="21"/><use href="#L"/></g><g id="n14-6" class="w" transform="translate(344)"><ellipse rx="17.5" ry="21"/><use href="#L"/></g><g id="n14-7" class="w" transform="translate(396)"><ellipse rx="17.5" ry="21"/><use href="#L"/></g><g id="n14-8" class="d" transform="translate(448)"><ellipse rx="17.5" ry="21"/><use href="#L"/></g><g id="n14-9" class="d" transform="translate(500)"><ellipse rx="17.5" ry="21"/><use href="#L"/></g><g id="n14-10" class="d" transform="translate(552)"><ellipse rx="17.5" ry="21"/><use href="#L"/></g><g id="n14-11" class="w" transform="translate(604)"><ellipse rx="17.5" ry="21"/><use href="#L"/></g><g id="n14-12" class="d" transform="translate(656)"><ellipse rx="17.5" ry="21"/><use href="#L"/></g><g id="n14-13" class="w" transform="translate(708)"><ellipse rx="17.5" ry="21"/><use href="#L"/></g><g id="n14-14" class="w" transform="translate(760)"><ellipse rx="17.5" ry="21"/><use href="#L"/></g><g id="n14-15" class="d" transform="translate(812)"><ellipse rx="17.5" ry="21"/><use href="#L"/></g><g id="n14-16" class="d" transform="translate(864)"><ellipse rx="17.5" ry="21"/><use href="#L"/></g><g id="n14-17" class="d" transform="translate(916)"><ellipse rx="17.5" ry="21"/><use href="#L"/></g><g id="n14-18" class="d" transform="translate(968)"><ellipse rx="17.5" ry="21"/><use href="#L"/></g><g id="n14-19" class="d" transform="translate(1020)"><ellipse rx="17.5" ry="21"/><use href="#L"/></g>
</g>
<g id="row15" transform="translate(0 790)">
<g id="n15-1" class="d" transform="translate(84)"><ellipse rx="17.5" ry="21"/><use href="#R"/></g><g id="n15-2" class="d" transform="translate(136)"><ellipse rx="17.5" ry="21"/><use href="#R"/></g><g id="n15-3" class="d" transform="translate(188)"><ellipse rx="17.5" ry="21"/><use href="#R"/></g><g id="n15-4" class="d" transform="translate(240)"><ellipse rx="17.5" ry="21"/><use href="#R"/></g><g id="n15-5" class="w" transform="translate(292)"><ellipse rx="17.5" ry="21"/><use href="#R"/></g><g id="n15-6" class="w" transform="translate(344)"><ellipse rx="17.5" ry="21"/><use href="#R"/></g><g id="n15-7" class="w" transform="translate(396)"><ellipse rx="17.5" ry="21"/><use href="#R"/></g><g id="n15-8" class="d" transform="translate(448)"><ellipse rx="17.5" ry="21"/><use href="#R"/></g><g id="n15-9" class="d" transform="translate(500)"><ellipse rx="17.5" ry="21"/><use href="#R"/></g><g id="n15-10" class="d" transform="translate(552)"><ellipse rx="17.5" ry="21"/><use href="#R"/></g><g id="n15-11" class="d" transform="translate(604)"><ellipse rx="17.5" ry="21"/><use href="#R"/></g><g id="n15-12" class="d" transform="translate(656)"><ellipse rx="17.5" ry="21"/><use href="#R"/></g><g id="n15-13" class="d" transform="translate(708)"><ellipse rx="17.5" ry="21"/><use href="#R"/></g><g id="n15-14" class="w" transform="translate(760)"><ellipse rx="17.5" ry="21"/><use href="#R"/></g><g id="n15-15" class="w" transform="translate(812)"><ellipse rx="17.5" ry="21"/><use href="#R"/></g><g id="n15-16" class="d" transform="translate(864)"><ellipse rx="17.5" ry="21"/><use href="#R"/></g><g id="n15-17" class="d" transform="translate(916)"><ellipse rx="17.5" ry="21"/><use href="#R"/></g><g id="n15-18" class="d" transform="translate(968)"><ellipse rx="17.5" ry="21"/><use href="#R"/></g><g id="n15-19" class="d" transform="translate(1020)"><ellipse rx="17.5" ry="21"/><use href="#R"/></g>
</g>
<g id="row16" transform="translate(0 842)">
<g id="n16-1" class="d" transform="translate(84)"><ellipse rx="17.5" ry="21"/><use href="#L"/></g><g id="n16-2" class="d" transform="translate(136)"><ellipse rx="17.5" ry="21"/><use href="#L"/></g><g id="n16-3" class="d" transform="translate(188)"><ellipse rx="17.5" ry="21"/><use href="#L"/></g><g id="n16-4" class="d" transform="translate(240)"><ellipse rx="17.5" ry="21"/><use href="#L"/></g><g id="n16-5" class="d" transform="translate(292)"><ellipse rx="17.5" ry="21"/><use href="#L"/></g><g id="n16-6" class="d" transform="translate(344)"><ellipse rx="17.5" ry="21"/><use href="#L"/></g><g id="n16-7" class="w" transform="translate(396)"><ellipse rx="17.5" ry="21"/><use href="#L"/></g><g id="n16-8" class="d" transform="translate(448)"><ellipse rx="17.5" ry="21"/><use href="#L"/></g><g id="n16-9" class="w" transform="translate(500)"><ellipse rx="17.5" ry="21"/><use href="#L"/></g><g id="n16-10" class="w" transform="translate(552)"><ellipse rx="17.5" ry="21"/><use href="#L"/></g><g id="n16-11" class="d" transform="translate(604)"><ellipse rx="17.5" ry="21"/><use href="#L"/></g><g id="n16-12" class="d" transform="translate(656)"><ellipse rx="17.5" ry="21"/><use href="#L"/></g><g id="n16-13" class="d" transform="translate(708)"><ellipse rx="17.5" ry="21"/><use href="#L"/></g><g id="n16-14" class="d" transform="translate(760)"><ellipse rx="17.5" ry="21"/><use href="#L"/></g><g id="n16-15" class="w" transform="translate(812)"><ellipse rx="17.5" ry="21"/><use href="#L"/></g><g id="n16-16" class="w" transform="translate(864)"><ellipse rx="17.5" ry="21"/><use href="#L"/></g><g id="n16-17" class="d" transform="translate(916)"><ellipse rx="17.5" ry="21"/><use href="#L"/></g><g id="n16-18" class="d" transform="translate(968)"><ellipse rx="17.5" ry="21"/><use href="#L"/></g><g id="n16-19" class="d" transform="translate(1020)"><ellipse rx="17.5" ry="21"/><use href="#L"/></g>
</g>
<g id="row17" transform="translate(0 894)">
<g id="n17-1" class="d" transform="translate(84)"><ellipse rx="17.5" ry="21"/><use href="#R"/></g><g id="n17-2" class="d" transform="translate(136)"><ellipse rx="17.5" ry="21"/><use href="#R"/></g><g id="n17-3" class="d" transform="translate(188)"><ellipse rx="17.5" ry="21"/><use href="#R"/></g><g id="n17-4" class="d" transform="translate(240)"><ellipse rx="17.5" ry="21"/><use href="#R"/></g><g id="n17-5" class="d" transform="translate(292)"><ellipse rx="17.5" ry="21"/><use href="#R"/></g><g id="n17-6" class="d" transform="translate(344)"><ellipse rx="17.5" ry="21"/><use href="#R"/></g><g id="n17-7" class="w" transform="translate(396)"><ellipse rx="17.5" ry="21"/><use href="#R"/></g><g id="n17-8" class="w" transform="translate(448)"><ellipse rx="17.5" ry="21"/><use href="#R"/></g><g id="n17-9" class="w" transform="translate(500)"><ellipse rx="17.5" ry="21"/><use href="#R"/></g><g id="n17-10" class="w" transform="translate(552)"><ellipse rx="17.5" ry="21"/><use href="#R"/></g><g id="n17-11" class="w" transform="translate(604)"><ellipse rx="17.5" ry="21"/><use href="#R"/></g><g id="n17-12" class="d" transform="translate(656)"><ellipse rx="17.5" ry="21"/><use href="#R"/></g><g id="n17-13" class="d" transform="translate(708)"><ellipse rx="17.5" ry="21"/><use href="#R"/></g><g id="n17-14" class="d" transform="translate(760)"><ellipse rx="17.5" ry="21"/><use href="#R"/></g><g id="n17-15" class="d" transform="translate(812)"><ellipse rx="17.5" ry="21"/><use href="#R"/></g><g id="n17-16" class="w" transform="translate(864)"><ellipse rx="17.5" ry="21"/><use href="#R"/></g><g id="n17-17" class="d" transform="translate(916)"><ellipse rx="17.5" ry="21"/><use href="#R"/></g><g id="n17-18" class="d" transform="translate(968)"><ellipse rx="17.5" ry="21"/><use href="#R"/></g><g id="n17-19" class="d" transform="translate(1020)"><ellipse rx="17.5" ry="21"/><use href="#R"/></g>
</g>
<g id="row18" transform="translate(0 946)">
<g id="n18-1" class="d" transform="translate(84)"><ellipse rx="17.5" ry="21"/><use href="#L"/></g><g id="n18-2" class="d" transform="translate(136)"><ellipse rx="17.5" ry="21"/><use href="#L"/></g><g id="n18-3" class="d" transform="translate(188)"><ellipse rx="17.5" ry="21"/><use href="#L"/></g><g id="n18-4" class="d" transform="translate(240)"><ellipse rx="17.5" ry="21"/><use href="#L"/></g><g id="n18-5" class="d" transform="translate(292)"><ellipse rx="17.5" ry="21"/><use href="#L"/></g><g id="n18-6" class="d" transform="translate(344)"><ellipse rx="17.5" ry="21"/><use href="#L"/></g><g id="n18-7" class="d" transform="translate(396)"><ellipse rx="17.5" ry="21"/><use href="#L"/></g><g id="n18-8" class="w" transform="translate(448)"><ellipse rx="17.5" ry="21"/><use href="#L"/></g><g id="n18-9" class="w" transform="translate(500)"><ellipse rx="17.5" ry="21"/><use href="#L"/></g><g id="n18-10" class="w" transform="translate(552)"><ellipse rx="17.5" ry="21"/><use href="#L"/></g><g id="n18-11" class="w" transform="translate(604)"><ellipse rx="17.5" ry="21"/><use href="#L"/></g><g id="n18-12" class="d" transform="translate(656)"><ellipse rx="17.5" ry="21"/><use href="#L"/></g><g id="n18-13" class="d" transform="translate(708)"><ellipse rx="17.5" ry="21"/><use href="#L"/></g><g id="n18-14" class="d" transform="translate(760)"><ellipse rx="17.5" ry="21"/><use href="#L"/></g><g id="n18-15" class="d" transform="translate(812)"><ellipse rx="17.5" ry="21"/><use href="#L"/></g><g id="n18-16" class="w" transform="translate(864)"><ellipse rx="17.5" ry="21"/><use href="#L"/></g><g id="n18-17" class="w" transform="translate(916)"><ellipse rx="17.5" ry="21"/><use href="#L"/></g><g id="n18-18" class="d" transform="translate(968)"><ellipse rx="17.5" ry="21"/><use href="#L"/></g><g id="n18-19" class="d" transform="translate(1020)"><ellipse rx="17.5" ry="21"/><use href="#L"/></g>
</g>
<g id="row19" transform="translate(0 998)">
<g id="n19-1" class="d" transform="translate(84)"><ellipse rx="17.5" ry="21"/><use href="#R"/></g><g id="n19-2" class="d" transform="translate(136)"><ellipse rx="17.5" ry="21"/><use href="#R"/></g><g id="n19-3" class="d" transform="translate(188)"><ellipse rx="17.5" ry="21"/><use href="#R"/></g><g id="n19-4" class="d" transform="translate(240)"><ellipse rx="17.5" ry="21"/><use href="#R"/></g><g id="n19-5" class="d" transform="translate(292)"><ellipse rx="17.5" ry="21"/><use href="#R"/></g><g id="n19-6" class="d" transform="translate(344)"><ellipse rx="17.5" ry="21"/><use href="#R"/></g><g id="n19-7" class="d" transform="translate(396)"><ellipse rx="17.5" ry="21"/><use href="#R"/></g><g id="n19-8" class="d" transform="translate(448)"><ellipse rx="17.5" ry="21"/><use href="#R"/></g><g id="n19-9" class="w" transform="translate(500)"><ellipse rx="17.5" ry="21"/><use href="#R"/></g><g id="n19-10" class="w" transform="translate(552)"><ellipse rx="17.5" ry="21"/><use href="#R"/></g><g id="n19-11" class="w" transform="translate(604)"><ellipse rx="17.5" ry="21"/><use href="#R"/></g><g id="n19-12" class="d" transform="translate(656)"><ellipse rx="17.5" ry="21"/><use href="#R"/></g><g id="n19-13" class="d" transform="translate(708)"><ellipse rx="17.5" ry="21"/><use href="#R"/></g><g id="n19-14" class="d" transform="translate(760)"><ellipse rx="17.5" ry="21"/><use href="#R"/></g><g id="n19-15" class="d" transform="translate(812)"><ellipse rx="17.5" ry="21"/><use href="#R"/></g><g id="n19-16" class="w" transform="translate(864)"><ellipse rx="17.5" ry="21"/><use href="#R"/></g><g id="n19-17" class="w" transform="translate(916)"><ellipse rx="17.5" ry="21"/><use href="#R"/></g><g id="n19-18" class="w" transform="translate(968)"><ellipse rx="17.5" ry="21"/><use href="#R"/></g><g id="n19-19" class="d" transform="translate(1020)"><ellipse rx="17.5" ry="21"/><use href="#R"/></g>
</g>
<g id="row20" transform="translate(0 1050)">
<g id="n20-1" class="d" transform="translate(84)"><ellipse rx="17.5" ry="21"/><use href="#L"/></g><g id="n20-2" class="w" transform="translate(136)"><ellipse rx="17.5" ry="21"/><use href="#L"/></g><g id="n20-3" class="w" transform="translate(188)"><ellipse rx="17.5" ry="21"/><use href="#L"/></g><g id="n20-4" class="w" transform="translate(240)"><ellipse rx="17.5" ry="21"/><use href="#L"/></g><g id="n20-5" class="w" transform="translate(292)"><ellipse rx="17.5" ry="21"/><use href="#L"/></g><g id="n20-6" class="d" transform="translate(344)"><ellipse rx="17.5" ry="21"/><use href="#L"/></g><g id="n20-7" class="d" transform="translate(396)"><ellipse rx="17.5" ry="21"/><use href="#L"/></g><g id="n20-8" class="d" transform="translate(448)"><ellipse rx="17.5" ry="21"/><use href="#L"/></g><g id="n20-9" class="d" transform="translate(500)"><ellipse rx="17.5" ry="21"/><use href="#L"/></g><g id="n20-10" class="d" transform="translate(552)"><ellipse rx="17.5" ry="21"/><use href="#L"/></g><g id="n20-11" class="w" transform="translate(604)"><ellipse rx="17.5" ry="21"/><use href="#L"/></g><g id="n20-12" class="d" transform="translate(656)"><ellipse rx="17.5" ry="21"/><use href="#L"/></g><g id="n20-13" class="d" transform="translate(708)"><ellipse rx="17.5" ry="21"/><use href="#L"/></g><g id="n20-14" class="d" transform="translate(760)"><ellipse rx="17.5" ry="21"/><use href="#L"/></g><g id="n20-15" class="d" transform="translate(812)"><ellipse rx="17.5" ry="21"/><use href="#L"/></g><g id="n20-16" class="w" transform="translate(864)"><ellipse rx="17.5" ry="21"/><use href="#L"/></g><g id="n20-17" class="w" transform="translate(916)"><ellipse rx="17.5" ry="21"/><use href="#L"/></g><g id="n20-18" class="w" transform="translate(968)"><ellipse rx="17.5" ry="21"/><use href="#L"/></g><g id="n20-19" class="d" transform="translate(1020)"><ellipse rx="17.5" ry="21"/><use href="#L"/></g>
</g>
<g id="row21" transform="translate(0 1102)">
<g id="n21-1" class="d" transform="translate(84)"><ellipse rx="17.5" ry="21"/><use href="#R"/></g><g id="n21-2" class="w" transform="translate(136)"><ellipse rx="17.5" ry="21"/><use href="#R"/></g><g id="n21-3" class="d" transform="translate(188)"><ellipse rx="17.5" ry="21"/><use href="#R"/></g><g id="n21-4" class="w" transform="translate(240)"><ellipse rx="17.5" ry="21"/><use href="#R"/></g><g id="n21-5" class="w" transform="translate(292)"><ellipse rx="17.5" ry="21"/><use href="#R"/></g><g id="n21-6" class="d" transform="translate(344)"><ellipse rx="17.5" ry="21"/><use href="#R"/></g><g id="n21-7" class="d" transform="translate(396)"><ellipse rx="17.5" ry="21"/><use href="#R"/></g><g id="n21-8" class="d" transform="translate(448)"><ellipse rx="17.5" ry="21"/><use href="#R"/></g><g id="n21-9" class="d" transform="translate(500)"><ellipse rx="17.5" ry="21"/><use href="#R"/></g><g id="n21-10" class="d" transform="translate(552)"><ellipse rx="17.5" ry="21"/><use href="#R"/></g><g id="n21-11" class="w" transform="translate(604)"><ellipse rx="17.5" ry="21"/><use href="#R"/></g><g id="n21-12" class="d" transform="translate(656)"><ellipse rx="17.5" ry="21"/><use href="#R"/></g><g id="n21-13" class="d" transform="translate(708)"><ellipse rx="17.5" ry="21"/><use href="#R"/></g><g id="n21-14" class="d" transform="translate(760)"><ellipse rx="17.5" ry="21"/><use href="#R"/></g><g id="n21-15" class="d" transform="translate(812)"><ellipse rx="17.5" ry="21"/><use href="#R"/></g><g id="n21-16" class="w" transform="translate(864)"><ellipse rx="17.5" ry="21"/><use href="#R"/></g><g id="n21-17" class="w" transform="translate(916)"><ellipse rx="17.5" ry="21"/><use href="#R"/></g><g id="n21-18" class="d" transform="translate(968)"><ellipse rx="17.5" ry="21"/><use href="#R"/></g><g id="n21-19" class="d" transform="translate(1020)"><ellipse rx="17.5" ry="21"/><use href="#R"/></g>
</g>
<g id="row22" transform="translate(0 1154)">
<g id="n22-1" class="d" transform="translate(84)"><ellipse rx="17.5" ry="21"/><use href="#L"/></g><g id="n22-2" class="w" transform="translate(136)"><ellipse rx="17.5" ry="21"/><use href="#L"/></g><g id="n22-3" class="d" transform="translate(188)"><ellipse rx="17.5" ry="21"/><use href="#L"/></g><g id="n22-4" class="w" transform="translate(240)"><ellipse rx="17.5" ry="21"/><use href="#L"/></g><g id="n22-5" class="w" transform="translate(292)"><ellipse rx="17.5" ry="21"/><use href="#L"/></g><g id="n22-6" class="w" transform="translate(344)"><ellipse rx="17.5" ry="21"/><use href="#L"/></g><g id="n22-7" class="d" transform="translate(396)"><ellipse rx="17.5" ry="21"/><use href="#L"/></g><g id="n22-8" class="d" transform="translate(448)"><ellipse rx="17.5" ry="21"/><use href="#L"/></g><g id="n22-9" class="d" transform="translate(500)"><ellipse rx="17.5" ry="21"/><use href="#L"/></g><g id="n22-10" class="d" transform="translate(552)"><ellipse rx="17.5" ry="21"/><use href="#L"/></g><g id="n22-11" class="w" transform="translate(604)"><ellipse rx="17.5" ry="21"/><use href="#L"/></g><g id="n22-12" class="d" transform="translate(656)"><ellipse rx="17.5" ry="21"/><use href="#L"/></g><g id="n22-13" class="d" transform="translate(708)"><ellipse rx="17.5" ry="21"/><use href="#L"/></g><g id="n22-14" class="d" transform="translate(760)"><ellipse rx="17.5" ry="21"/><use href="#L"/></g><g id="n22-15" class="d" transform="translate(812)"><ellipse rx="17.5" ry="21"/><use href="#L"/></g><g id="n22-16" class="w" transform="translate(864)"><ellipse rx="17.5" ry="21"/><use href="#L"/></g><g id="n22-17" class="w" transform="translate(916)"><ellipse rx="17.5" ry="21"/><use href="#L"/></g><g id="n22-18" class="w" transform="translate(968)"><ellipse rx="17.5" ry="21"/><use href="#L"/></g><g id="n22-19" class="d" transform="translate(1020)"><ellipse rx="17.5" ry="21"/><use href="#L"/></g>
</g>
<g id="row23" transform="translate(0 1206)">
<g id="n23-1" class="d" transform="translate(84)"><ellipse rx="17.5" ry="21"/><use href="#R"/></g><g id="n23-2" class="w" transform="translate(136)"><ellipse rx="17.5" ry="21"/><use href="#R"/></g><g id="n23-3" class="d" transform="translate(188)"><ellipse rx="17.5" ry="21"/><use href="#R"/></g><g id="n23-4" class="w" transform="translate(240)"><ellipse rx="17.5" ry="21"/><use href="#R"/></g><g id="n23-5" class="w" transform="translate(292)"><ellipse rx="17.5" ry="21"/><use href="#R"/></g><g id="n23-6" class="w" transform="translate(344)"><ellipse rx="17.5" ry="21"/><use href="#R"/></g><g id="n23-7" class="d" transform="translate(396)"><ellipse rx="17.5" ry="21"/><use href="#R"/></g><g id="n23-8" class="d" transform="translate(448)"><ellipse rx="17.5" ry="21"/><use href="#R"/></g><g id="n23-9" class="d" transform="translate(500)"><ellipse rx="17.5" ry="21"/><use href="#R"/></g><g id="n23-10" class="d" transform="translate(552)"><ellipse rx="17.5" ry="21"/><use href="#R"/></g><g id="n23-11" class="w" transform="translate(604)"><ellipse rx="17.5" ry="21"/><use href="#R"/></g><g id="n23-12" class="d" transform="translate(656)"><ellipse rx="17.5" ry="21"/><use href="#R"/></g><g id="n23-13" class="d" transform="translate(708)"><ellipse rx="17.5" ry="21"/><use href="#R"/></g><g id="n23-14" class="d" transform="translate(760)"><ellipse rx="17.5" ry="21"/><use href="#R"/></g><g id="n23-15" class="w" transform="translate(812)"><ellipse rx="17.5" ry="21"/><use href="#R"/></g><g id="n23-16" class="w" transform="translate(864)"><ellipse rx="17.5" ry="21"/><use href="#R"/></g><g id="n23-17" class="w" transform="translate(916)"><ellipse rx="17.5" ry="21"/><use href="#R"/></g><g id="n23-18" class="w" transform="translate(968)"><ellipse rx="17.5" ry="21"/><use href="#R"/></g><g id="n23-19" class="d" transform="translate(1020)"><ellipse rx="17.5" ry="21"/><use href="#R"/></g>
</g>
<g id="row24" transform="translate(0 1258)">
<g id="n24-1" class="d" transform="translate(84)"><ellipse rx="17.5" ry="21"/><use href="#L"/></g><g id="n24-2" class="w" transform="translate(136)"><ellipse rx="17.5" ry="21"/><use href="#L"/></g><g id="n24-3" class="w" transform="translate(188)"><ellipse rx="17.5" ry="21"/><use href="#L"/></g><g id="n24-4" class="d" transform="translate(240)"><ellipse rx="17.5" ry="21"/><use href="#L"/></g><g id="n24-5" class="w" transform="translate(292)"><ellipse rx="17.5" ry="21"/><use href="#L"/></g><g id="n24-6" class="w" transform="translate(344)"><ellipse rx="17.5" ry="21"/><use href="#L"/></g><g id="n24-7" class="w" transform="translate(396)"><ellipse rx="17.5" ry="21"/><use href="#L"/></g><g id="n24-8" class="d" transform="translate(448)"><ellipse rx="17.5" ry="21"/><use href="#L"/></g><g id="n24-9" class="d" transform="translate(500)"><ellipse rx="17.5" ry="21"/><use href="#L"/></g><g id="n24-10" class="w" transform="translate(552)"><ellipse rx="17.5" ry="21"/><use href="#L"/></g><g id="n24-11" class="d" transform="translate(604)"><ellipse rx="17.5" ry="21"/><use href="#L"/></g><g id="n24-12" class="d" transform="translate(656)"><ellipse rx="17.5" ry="21"/><use href="#L"/></g><g id="n24-13" class="d" transform="translate(708)"><ellipse rx="17.5" ry="21"/><use href="#L"/></g><g id="n24-14" class="d" transform="translate(760)"><ellipse rx="17.5" ry="21"/><use href="#L"/></g><g id="n24-15" class="w" transform="translate(812)"><ellipse rx="17.5" ry="21"/><use href="#L"/></g><g id="n24-16" class="w" transform="translate(864)"><ellipse rx="17.5" ry="21"/><use href="#L"/></g><g id="n24-17" class="w" transform="translate(916)"><ellipse rx="17.5" ry="21"/><use href="#L"/></g><g id="n24-18" class="w" transform="translate(968)"><ellipse rx="17.5" ry="21"/><use href="#L"/></g><g id="n24-19" class="d" transform="translate(1020)"><ellipse rx="17.5" ry="21"/><use href="#L"/></g>
</g>
<g id="row25" transform="translate(0 1310)">
<g id="n25-1" class="d" transform="translate(84)"><ellipse rx="17.5" ry="21"/><use href="#R"/></g><g id="n25-2" class="d" transform="translate(136)"><ellipse rx="17.5" ry="21"/><use href="#R"/></g><g id="n25-3" class="w" transform="translate(188)"><ellipse rx="17.5" ry="21"/><use href="#R"/></g><g id="n25-4" class="w" transform="translate(240)"><ellipse rx="17.5" ry="21"/><use href="#R"/></g><g id="n25-5" class="d" transform="translate(292)"><ellipse rx="17.5" ry="21"/><use href="#R"/></g><g id="n25-6" class="w" transform="translate(344)"><ellipse rx="17.5" ry="21"/><use href="#R"/></g><g id="n25-7" class="w" transform="translate(396)"><ellipse rx="17.5" ry="21"/><use href="#R"/></g><g id="n25-8" class="w" transform="translate(448)"><ellipse rx="17.5" ry="21"/><use href="#R"/></g><g id="n25-9" class="w" transform="translate(500)"><ellipse rx="17.5" ry="21"/><use href="#R"/></g><g id="n25-10" class="d" transform="translate(552)"><ellipse rx="17.5" ry="21"/><use href="#R"/></g><g id="n25-11" class="d" transform="translate(604)"><ellipse rx="17.5" ry="21"/><use href="#R"/></g><g id="n25-12" class="d" transform="translate(656)"><ellipse rx="17.5" ry="21"/><use href="#R"/></g><g id="n25-13" class="d" transform="translate(708)"><ellipse rx="17.5" ry="21"/><use href="#R"/></g><g id="n25-14" class="w" transform="translate(760)"><ellipse rx="17.5" ry="21"/><use href="#R"/></g><g id="n25-15" class="w" transform="translate(812)"><ellipse rx="17.5" ry="21"/><use href="#R"/></g><g id="n25-16" class="w" transform="translate(864)"><ellipse rx="17.5" ry="21"/><use href="#R"/></g><g id="n25-17" class="w" transform="translate(916)"><ellipse rx="17.5" ry="21"/><use href="#R"/></g><g id="n25-18" class="w" transform="translate(968)"><ellipse rx="17.5" ry="21"/><use href="#R"/></g><g id="n25-19" class="d" transform="translate(1020)"><ellipse rx="17.5" ry="21"/><use href="#R"/></g>
</g>
<g id="row26" transform="translate(0 1362)">
<g id="n26-1" class="d" transform="translate(84)"><ellipse rx="17.5" ry="21"/><use href="#L"/></g><g id="n26-2" class="d" transform="translate(136)"><ellipse rx="17.5" ry="21"/><use href="#L"/></g><g id="n26-3" class="d" transform="translate(188)"><ellipse rx="17.5" ry="21"/><use href="#L"/></g><g id="n26-4" class="w" transform="translate(240)"><ellipse rx="17.5" ry="21"/><use href="#L"/></g><g id="n26-5" class="w" transform="translate(292)"><ellipse rx="17.5" ry="21"/><use href="#L"/></g><g id="n26-6" class="d" transform="translate(344)"><ellipse rx="17.5" ry="21"/><use href="#L"/></g><g id="n26-7" class="d" transform="translate(396)"><ellipse rx="17.5" ry="21"/><use href="#L"/></g><g id="n26-8" class="d" transform="translate(448)"><ellipse rx="17.5" ry="21"/><use href="#L"/></g><g id="n26-9" class="d" transform="translate(500)"><ellipse rx="17.5" ry="21"/><use href="#L"/></g><g id="n26-10" class="d" transform="translate(552)"><ellipse rx="17.5" ry="21"/><use href="#L"/></g><g id="n26-11" class="d" transform="translate(604)"><ellipse rx="17.5" ry="21"/><use href="#L"/></g><g id="n26-12" class="d" transform="translate(656)"><ellipse rx="17.5" ry="21"/><use href="#L"/></g><g id="n26-13" class="w" transform="translate(708)"><ellipse rx="17.5" ry="21"/><use href="#L"/></g><g id="n26-14" class="w" transform="translate(760)"><ellipse rx="17.5" ry="21"/><use href="#L"/></g><g id="n26-15" class="w" transform="translate(812)"><ellipse rx="17.5" ry="21"/><use href="#L"/></g><g id="n26-16" class="w" transform="translate(864)"><ellipse rx="17.5" ry="21"/><use href="#L"/></g><g id="n26-17" class="w" transform="translate(916)"><ellipse rx="17.5" ry="21"/><use href="#L"/></g><g id="n26-18" class="d" transform="translate(968)"><ellipse rx="17.5" ry="21"/><use href="#L"/></g><g id="n26-19" class="d" transform="translate(1020)"><ellipse rx="17.5" ry="21"/><use href="#L"/></g>
</g>
<g id="row27" transform="translate(0 1414)">
<g id="n27-1" class="d" transform="translate(84)"><ellipse rx="17.5" ry="21"/><use href="#R"/></g><g id="n27-2" class="d" transform="translate(136)"><ellipse rx="17.5" ry="21"/><use href="#R"/></g><g id="n27-3" class="d" transform="translate(188)"><ellipse rx="17.5" ry="21"/><use href="#R"/></g><g id="n27-4" class="d" transform="translate(240)"><ellipse rx="17.5" ry="21"/><use href="#R"/></g><g id="n27-5" class="w" transform="translate(292)"><ellipse rx="17.5" ry="21"/><use href="#R"/></g><g id="n27-6" class="w" transform="translate(344)"><ellipse rx="17.5" ry="21"/><use href="#R"/></g><g id="n27-7" class="d" transform="translate(396)"><ellipse rx="17.5" ry="21"/><use href="#R"/></g><g id="n27-8" class="d" transform="translate(448)"><ellipse rx="17.5" ry="21"/><use href="#R"/></g><g id="n27-9" class="d" transform="translate(500)"><ellipse rx="17.5" ry="21"/><use href="#R"/></g><g id="n27-10" class="d" transform="translate(552)"><ellipse rx="17.5" ry="21"/><use href="#R"/></g><g id="n27-11" class="w" transform="translate(604)"><ellipse rx="17.5" ry="21"/><use href="#R"/></g><g id="n27-12" class="w" transform="translate(656)"><ellipse rx="17.5" ry="21"/><use href="#R"/></g><g id="n27-13" class="w" transform="translate(708)"><ellipse rx="17.5" ry="21"/><use href="#R"/></g><g id="n27-14" class="w" transform="translate(760)"><ellipse rx="17.5" ry="21"/><use href="#R"/></g><g id="n27-15" class="w" transform="translate(812)"><ellipse rx="17.5" ry="21"/><use href="#R"/></g><g id="n27-16" class="w" transform="translate(864)"><ellipse rx="17.5" ry="21"/><use href="#R"/></g><g id="n27-17" class="w" transform="translate(916)"><ellipse rx="17.5" ry="21"/><use href="#R"/></g><g id="n27-18" class="d" transform="translate(968)"><ellipse rx="17.5" ry="21"/><use href="#R"/></g><g id="n27-19" class="d" transform="translate(1020)"><ellipse rx="17.5" ry="21"/><use href="#R"/></g>
</g>
<g id="row28" transform="translate(0 1466)">
<g id="n28-1" class="d" transform="translate(84)"><ellipse rx="17.5" ry="21"/><use href="#L"/></g><g id="n28-2" class="d" transform="translate(136)"><ellipse rx="17.5" ry="21"/><use href="#L"/></g><g id="n28-3" class="d" transform="translate(188)"><ellipse rx="17.5" ry="21"/><use href="#L"/></g><g id="n28-4" class="d" transform="translate(240)"><ellipse rx="17.5" ry="21"/><use href="#L"/></g><g id="n28-5" class="d" transform="translate(292)"><ellipse rx="17.5" ry="21"/><use href="#L"/></g><g id="n28-6" class="w" transform="translate(344)"><ellipse rx="17.5" ry="21"/><use href="#L"/></g><g id="n28-7" class="w" transform="translate(396)"><ellipse rx="17.5" ry="21"/><use href="#L"/></g><g id="n28-8" class="w" transform="translate(448)"><ellipse rx="17.5" ry="21"/><use href="#L"/></g><g id="n28-9" class="w" transform="translate(500)"><ellipse rx="17.5" ry="21"/><use href="#L"/></g><g id="n28-10" class="w" transform="translate(552)"><ellipse rx="17.5" ry="21"/><use href="#L"/></g><g id="n28-11" class="w" transform="translate(604)"><ellipse rx="17.5" ry="21"/><use href="#L"/></g><g id="n28-12" class="w" transform="translate(656)"><ellipse rx="17.5" ry="21"/><use href="#L"/></g><g id="n28-13" class="w" transform="translate(708)"><ellipse rx="17.5" ry="21"/><use href="#L"/></g><g id="n28-14" class="w" transform="translate(760)"><ellipse rx="17.5" ry="21"/><use href="#L"/></g><g id="n28-15" class="w" transform="translate(812)"><ellipse rx="17.5" ry="21"/><use href="#L"/></g><g id="n28-16" class="w" transform="translate(864)"><ellipse rx="17.5" ry="21"/><use href="#L"/></g><g id="n28-17" class="d" transform="translate(916)"><ellipse rx="17.5" ry="21"/><use href="#L"/></g><g id="n28-18" class="d" transform="translate(968)"><ellipse rx="17.5" ry="21"/><use href="#L"/></g><g id="n28-19" class="d" transform="translate(1020)"><ellipse rx="17.5" ry="21"/><use href="#L"/></g>
</g>
<g id="row29" transform="translate(0 1518)">
<g id="n29-1" class="d" transform="translate(84)"><ellipse rx="17.5" ry="21"/><use href="#R"/></g><g id="n29-2" class="d" transform="translate(136)"><ellipse rx="17.5" ry="21"/><use href="#R"/></g><g id="n29-3" class="d" transform="translate(188)"><ellipse rx="17.5" ry="21"/><use href="#R"/></g><g id="n29-4" class="d" transform="translate(240)"><ellipse rx="17.5" ry="21"/><use href="#R"/></g><g id="n29-5" class="d" transform="translate(292)"><ellipse rx="17.5" ry="21"/><use href="#R"/></g><g id="n29-6" class="d" transform="translate(344)"><ellipse rx="17.5" ry="21"/><use href="#R"/></g><g id="n29-7" class="d" transform="translate(396)"><ellipse rx="17.5" ry="21"/><use href="#R"/></g><g id="n29-8" class="w" transform="translate(448)"><ellipse rx="17.5" ry="21"/><use href="#R"/></g><g id="n29-9" class="w" transform="translate(500)"><ellipse rx="17.5" ry="21"/><use href="#R"/></g><g id="n29-10" class="w" transform="translate(552)"><ellipse rx="17.5" ry="21"/><use href="#R"/></g><g id="n29-11" class="w" transform="translate(604)"><ellipse rx="17.5" ry="21"/><use href="#R"/></g><g id="n29-12" class="w" transform="translate(656)"><ellipse rx="17.5" ry="21"/><use href="#R"/></g><g id="n29-13" class="w" transform="translate(708)"><ellipse rx="17.5" ry="21"/><use href="#R"/></g><g id="n29-14" class="w" transform="translate(760)"><ellipse rx="17.5" ry="21"/><use href="#R"/></g><g id="n29-15" class="d" transform="translate(812)"><ellipse rx="17.5" ry="21"/><use href="#R"/></g><g id="n29-16" class="d" transform="translate(864)"><ellipse rx="17.5" ry="21"/><use href="#R"/></g><g id="n29-17" class="d" transform="translate(916)"><ellipse rx="17.5" ry="21"/><use href="#R"/></g><g id="n29-18" class="d" transform="translate(968)"><ellipse rx="17.5" ry="21"/><use href="#R"/></g><g id="n29-19" class="d" transform="translate(1020)"><ellipse rx="17.5" ry="21"/><use href="#R"/></g>
</g>
<g id="row30" transform="translate(0 1570)">
<g id="n30-1" class="d" transform="translate(84)"><ellipse rx="17.5" ry="21"/><use href="#L"/></g><g id="n30-2" class="d" transform="translate(136)"><ellipse rx="17.5" ry="21"/><use href="#L"/></g><g id="n30-3" class="d" transform="translate(188)"><ellipse rx="17.5" ry="21"/><use href="#L"/></g><g id="n30-4" class="d" transform="translate(240)"><ellipse rx="17.5" ry="21"/><use href="#L"/></g><g id="n30-5" class="d" transform="translate(292)"><ellipse rx="17.5" ry="21"/><use href="#L"/></g><g id="n30-6" class="d" transform="translate(344)"><ellipse rx="17.5" ry="21"/><use href="#L"/></g><g id="n30-7" class="d" transform="translate(396)"><ellipse rx="17.5" ry="21"/><use href="#L"/></g><g id="n30-8" class="d" transform="translate(448)"><ellipse rx="17.5" ry="21"/><use href="#L"/></g><g id="n30-9" class="d" transform="translate(500)"><ellipse rx="17.5" ry="21"/><use href="#L"/></g><g id="n30-10" class="d" transform="translate(552)"><ellipse rx="17.5" ry="21"/><use href="#L"/></g><g id="n30-11" class="d" transform="translate(604)"><ellipse rx="17.5" ry="21"/><use href="#L"/></g><g id="n30-12" class="d" transform="translate(656)"><ellipse rx="17.5" ry="21"/><use href="#L"/></g><g id="n30-13" class="d" transform="translate(708)"><ellipse rx="17.5" ry="21"/><use href="#L"/></g><g id="n30-14" class="d" transform="translate(760)"><ellipse rx="17.5" ry="21"/><use href="#L"/></g><g id="n30-15" class="d" transform="translate(812)"><ellipse rx="17.5" ry="21"/><use href="#L"/></g><g id="n30-16" class="d" transform="translate(864)"><ellipse rx="17.5" ry="21"/><use href="#L"/></g><g id="n30-17" class="d" transform="translate(916)"><ellipse rx="17.5" ry="21"/><use href="#L"/></g><g id="n30-18" class="d" transform="translate(968)"><ellipse rx="17.5" ry="21"/><use href="#L"/></g><g id="n30-19" class="d" transform="translate(1020)"><ellipse rx="17.5" ry="21"/><use href="#L"/></g>
</g>
</g>
<text id="watermark" x="475" y="822" textLength="154" lengthAdjust="spacingAndGlyphs" font-family="Liberation Sans, Arial, sans-serif" font-weight="bold" font-size="16" fill="#333">BRACELETBOOK.COM</text>
</svg>
